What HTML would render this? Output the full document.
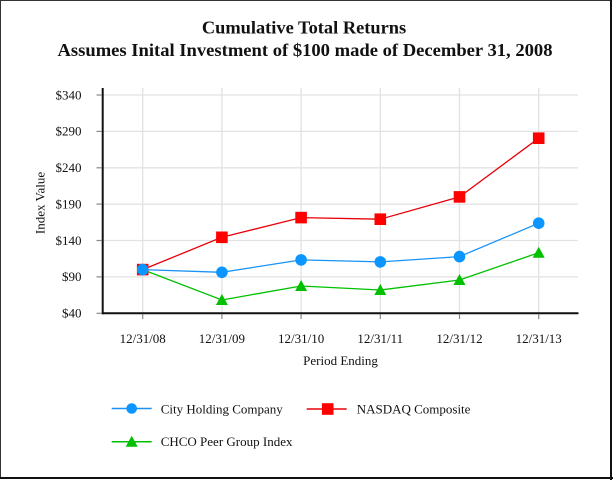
<!DOCTYPE html>
<html><head><meta charset="utf-8"><style>
html,body{margin:0;padding:0;background:#fff;}
svg{display:block;}
text{font-family:"Liberation Serif","Times New Roman",serif;fill:#111;}
</style></head><body>
<svg width="613" height="480" viewBox="0 0 613 480" xmlns="http://www.w3.org/2000/svg">
<rect x="0" y="0" width="613" height="480" fill="#fff"/>
<!-- border -->
<line x1="0.5" y1="0" x2="0.5" y2="479" stroke="#333" stroke-width="1"/>
<line x1="0" y1="0.5" x2="611" y2="0.5" stroke="#333" stroke-width="1"/>
<line x1="611" y1="0" x2="611" y2="480" stroke="#111" stroke-width="2"/>
<line x1="0" y1="478" x2="613" y2="478" stroke="#111" stroke-width="2"/>

<!-- title -->
<text x="304" y="33.3" font-size="18.4" font-weight="bold" text-anchor="middle">Cumulative Total Returns</text>
<text x="305" y="55.8" font-size="18.4" font-weight="bold" text-anchor="middle" textLength="495" lengthAdjust="spacingAndGlyphs">Assumes Inital Investment of $100 made of December 31, 2008</text>

<!-- gridlines -->
<g stroke="#e2e2e2" stroke-width="1.3">
<line x1="103" y1="95" x2="578" y2="95"/>
<line x1="103" y1="131.4" x2="578" y2="131.4"/>
<line x1="103" y1="167.8" x2="578" y2="167.8"/>
<line x1="103" y1="204.1" x2="578" y2="204.1"/>
<line x1="103" y1="240.5" x2="578" y2="240.5"/>
<line x1="103" y1="276.9" x2="578" y2="276.9"/>
<line x1="142.7" y1="88" x2="142.7" y2="313"/>
<line x1="221.9" y1="88" x2="221.9" y2="313"/>
<line x1="301.1" y1="88" x2="301.1" y2="313"/>
<line x1="380.3" y1="88" x2="380.3" y2="313"/>
<line x1="459.5" y1="88" x2="459.5" y2="313"/>
<line x1="538.7" y1="88" x2="538.7" y2="313"/>
</g>

<!-- axes -->
<g stroke="#111">
<line x1="102.7" y1="88" x2="102.7" y2="314.3" stroke-width="2"/>
<line x1="101.7" y1="313.3" x2="578.5" y2="313.3" stroke-width="2"/>
</g>
<g stroke="#888" stroke-width="1.2">
<line x1="96.5" y1="95" x2="102" y2="95"/>
<line x1="96.5" y1="131.4" x2="102" y2="131.4"/>
<line x1="96.5" y1="167.8" x2="102" y2="167.8"/>
<line x1="96.5" y1="204.1" x2="102" y2="204.1"/>
<line x1="96.5" y1="240.5" x2="102" y2="240.5"/>
<line x1="96.5" y1="276.9" x2="102" y2="276.9"/>
<line x1="96.5" y1="313.3" x2="102" y2="313.3"/>
<line x1="142.7" y1="314" x2="142.7" y2="319"/>
<line x1="221.9" y1="314" x2="221.9" y2="319"/>
<line x1="301.1" y1="314" x2="301.1" y2="319"/>
<line x1="380.3" y1="314" x2="380.3" y2="319"/>
<line x1="459.5" y1="314" x2="459.5" y2="319"/>
<line x1="538.7" y1="314" x2="538.7" y2="319"/>
</g>

<!-- y labels -->
<g font-size="13" text-anchor="end">
<text x="81.5" y="99.3">$340</text>
<text x="81.5" y="135.7">$290</text>
<text x="81.5" y="172.1">$240</text>
<text x="81.5" y="208.4">$190</text>
<text x="81.5" y="244.8">$140</text>
<text x="81.5" y="281.2">$90</text>
<text x="81.5" y="317.6">$40</text>
</g>
<text x="0" y="0" font-size="13" text-anchor="middle" transform="translate(44.5,203) rotate(-90)">Index Value</text>

<!-- x labels -->
<g font-size="13" text-anchor="middle">
<text x="142.7" y="343">12/31/08</text>
<text x="221.9" y="343">12/31/09</text>
<text x="301.1" y="343">12/31/10</text>
<text x="380.3" y="343">12/31/11</text>
<text x="459.5" y="343">12/31/12</text>
<text x="538.7" y="343">12/31/13</text>
</g>
<text x="340.5" y="365" font-size="13" text-anchor="middle">Period Ending</text>

<!-- series -->
<!-- Peer (green) -->
<polyline fill="none" stroke="#00C000" stroke-width="1.3" points="142.7,269.6 221.9,300 301.1,286 380.3,290 459.5,280 538.7,252.7"/>
<!-- City (blue) -->
<polyline fill="none" stroke="#1893F5" stroke-width="1.3" points="142.7,269.6 221.9,272.3 301.1,259.9 380.3,261.9 459.5,256.6 538.7,223.2"/>
<!-- NASDAQ (red) -->
<polyline fill="none" stroke="#E8000A" stroke-width="1.3" points="142.7,269.6 221.9,237.3 301.1,217.6 380.3,219.2 459.5,196.9 538.7,138.2"/>

<g fill="#00C000">
<polygon points="221.9,294 215.9,305 227.9,305"/>
<polygon points="301.1,280 295.1,291 307.1,291"/>
<polygon points="380.3,284 374.3,295 386.3,295"/>
<polygon points="459.5,274 453.5,285 465.5,285"/>
<polygon points="538.7,246.7 532.7,257.7 544.7,257.7"/>
</g>
<g fill="#FF0000">
<rect x="136.9" y="263.8" width="11.6" height="11.6"/>
<rect x="216.1" y="231.5" width="11.6" height="11.6"/>
<rect x="295.3" y="211.8" width="11.6" height="11.6"/>
<rect x="374.5" y="213.4" width="11.6" height="11.6"/>
<rect x="453.7" y="191.1" width="11.6" height="11.6"/>
<rect x="532.9" y="132.4" width="11.6" height="11.6"/>
</g>
<g fill="#0A95FF">
<circle cx="142.7" cy="269.6" r="5.8"/>
<circle cx="221.9" cy="272.3" r="5.8"/>
<circle cx="301.1" cy="259.9" r="5.8"/>
<circle cx="380.3" cy="261.9" r="5.8"/>
<circle cx="459.5" cy="256.6" r="5.8"/>
<circle cx="538.7" cy="223.2" r="5.8"/>
</g>

<!-- legend -->
<line x1="111.7" y1="408.5" x2="151.7" y2="408.5" stroke="#1893F5" stroke-width="1.5"/>
<circle cx="131.7" cy="408.5" r="5.3" fill="#0A95FF"/>
<text x="160.7" y="413.3" font-size="13">City Holding Company</text>

<line x1="306.7" y1="409" x2="346.7" y2="409" stroke="#E8000A" stroke-width="1.5"/>
<rect x="321.9" y="403.2" width="11.6" height="11.6" fill="#FF0000"/>
<text x="356.7" y="413.5" font-size="13">NASDAQ Composite</text>

<line x1="111.7" y1="441.7" x2="151.7" y2="441.7" stroke="#00C000" stroke-width="1.5"/>
<polygon points="131.7,435.7 125.7,446.7 137.7,446.7" fill="#00C000"/>
<text x="160.7" y="446" font-size="13">CHCO Peer Group Index</text>
</svg>
</body></html>
